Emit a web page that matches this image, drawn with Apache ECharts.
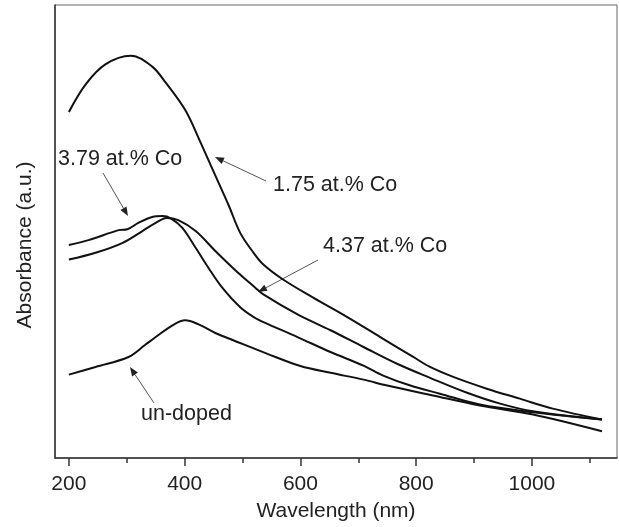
<!DOCTYPE html>
<html>
<head>
<meta charset="utf-8">
<script src="https://cdn.jsdelivr.net/npm/echarts@6/dist/echarts.min.js"></script>
<style>
html,body{margin:0;padding:0;background:#fff;}
#chart{width:619px;height:527px;}
</style>
</head>
<body>
<div id="chart"></div>
<script>
// ---- data (wavelength nm, absorbance a.u.) ----
const wl_175 = [200,229,263,307,344,367,401,427,450,476,496,519,536,570,622,681,738,795,824,864,922,979,1036,1121];
const ab_175 = [76.4,82.5,86.9,88.8,86.4,82.9,76.8,69.8,63.2,55.8,49.7,45.3,42.7,39.4,35.4,31.1,26.7,22.3,20.1,17.9,15.3,13.1,10.9,8.5];

const wl_437 = [200,246,293,327,350,369,389,419,453,488,522,536,595,652,709,767,824,888,945,1002,1121];
const ab_437 = [43.8,45.3,47.5,50.1,51.9,53.0,52.5,50.1,45.7,41.4,37.6,36.1,31.7,28.2,24.5,20.8,17.7,14.4,12.0,10.3,8.5];

const wl_379 = [200,234,286,301,320,344,362,376,396,419,441,465,496,522,536,595,652,709,743,790,841,910,1002,1121];
const ab_379 = [47.0,48.1,50.3,50.5,51.9,53.2,53.4,52.9,50.8,46.4,42.0,37.6,33.3,30.9,30.0,26.7,23.4,20.4,18.2,16.0,14.2,11.8,10.1,8.5];

const wl_und = [200,246,303,332,350,379,401,424,453,484,543,600,652,709,750,829,910,1002,1121];
const ab_und = [18.4,20.1,22.3,25.0,26.7,29.3,30.4,29.5,27.6,26.0,23.0,20.3,18.8,17.3,16.0,13.8,11.6,9.6,5.9];

const majorTicks = [200,400,600,800,1000];
const minorTicks = [300,500,700,900,1100];
const seriesNames = ['1.75 at.% Co','4.37 at.% Co','3.79 at.% Co','un-doped'];

const FONT = "'Liberation Sans', Arial, sans-serif";
const zip = (xs, ys) => xs.map((x, i) => [x, ys[i]]);

const chart = echarts.init(document.getElementById('chart'), null, {renderer: 'canvas'});

const lineStyle = {color: '#111', width: 2};
function mkSeries(name, xs, ys) {
  return {
    name: name, type: 'line', data: zip(xs, ys),
    showSymbol: false, symbol: 'none', smooth: 0.35,
    lineStyle: lineStyle, itemStyle: {color: '#111'}, silent: true, animation: false
  };
}

// annotation arrows (pixel layout)
function arrow(x1, y1, x2, y2) {
  const ang = Math.atan2(y2 - y1, x2 - x1);
  const L = 9, W = 3.5;
  const bx = x2 - L * Math.cos(ang), by = y2 - L * Math.sin(ang);
  const px = -Math.sin(ang), py = Math.cos(ang);
  return [
    {type: 'line', shape: {x1: x1, y1: y1, x2: bx, y2: by}, style: {stroke: '#555', lineWidth: 1}, silent: true},
    {type: 'polygon', shape: {points: [[x2, y2], [bx + px * W, by + py * W], [bx - px * W, by - py * W]]}, style: {fill: '#222'}, silent: true}
  ];
}
function label(text, x, y) {
  return {type: 'text', x: x, y: y, style: {text: text, fill: '#222', font: '21.5px ' + FONT, textVerticalAlign: 'middle', textAlign: 'left'}, silent: true};
}

const graphics = [].concat(
  [label(seriesNames[2], 58, 159)], arrow(103, 173, 128, 216),
  [label(seriesNames[0], 273, 185)], arrow(266, 181, 215, 157),
  [label(seriesNames[1], 323, 246)], arrow(318, 260, 258, 292),
  [label(seriesNames[3], 141, 414)], arrow(154, 403, 130, 367),
  [{type: 'text', x: 25, y: 245, rotation: Math.PI / 2,
    style: {text: 'Absorbance (a.u.)', fill: '#222', font: '21px ' + FONT, textAlign: 'center', textVerticalAlign: 'middle'}, silent: true}]
);

chart.setOption({
  animation: false,
  backgroundColor: '#fff',
  grid: {left: 55, right: 2, top: 5, bottom: 65, show: true, borderColor: '#666', borderWidth: 1, backgroundColor: 'transparent'},
  xAxis: [{
    type: 'value', min: 176, max: 1147,
    name: 'Wavelength (nm)', nameLocation: 'middle', nameGap: 43,
    nameTextStyle: {fontFamily: FONT, fontSize: 21, color: '#222'},
    axisLine: {show: true, lineStyle: {color: '#333', width: 1.5}},
    axisTick: {show: true, inside: false, length: 8, customValues: majorTicks, lineStyle: {color: '#333', width: 1.5}},
    axisLabel: {show: true, customValues: majorTicks, margin: 16, fontFamily: FONT, fontSize: 21, color: '#222',
      formatter: v => String(v)},
    splitLine: {show: false}
  }, {
    type: 'value', min: 176, max: 1147, position: 'bottom',
    axisLine: {show: false},
    axisTick: {show: true, inside: false, length: 5, customValues: minorTicks, lineStyle: {color: '#333', width: 1.5}},
    axisLabel: {show: false},
    splitLine: {show: false}
  }],
  yAxis: {
    type: 'value', min: 0, max: 100,
    axisLine: {show: true, lineStyle: {color: '#333', width: 1.5}},
    axisTick: {show: false}, axisLabel: {show: false}, splitLine: {show: false}
  },
  series: [
    mkSeries(seriesNames[0], wl_175, ab_175),
    mkSeries(seriesNames[1], wl_437, ab_437),
    mkSeries(seriesNames[2], wl_379, ab_379),
    mkSeries(seriesNames[3], wl_und, ab_und)
  ],
  graphic: graphics
});
</script>
</body>
</html>
